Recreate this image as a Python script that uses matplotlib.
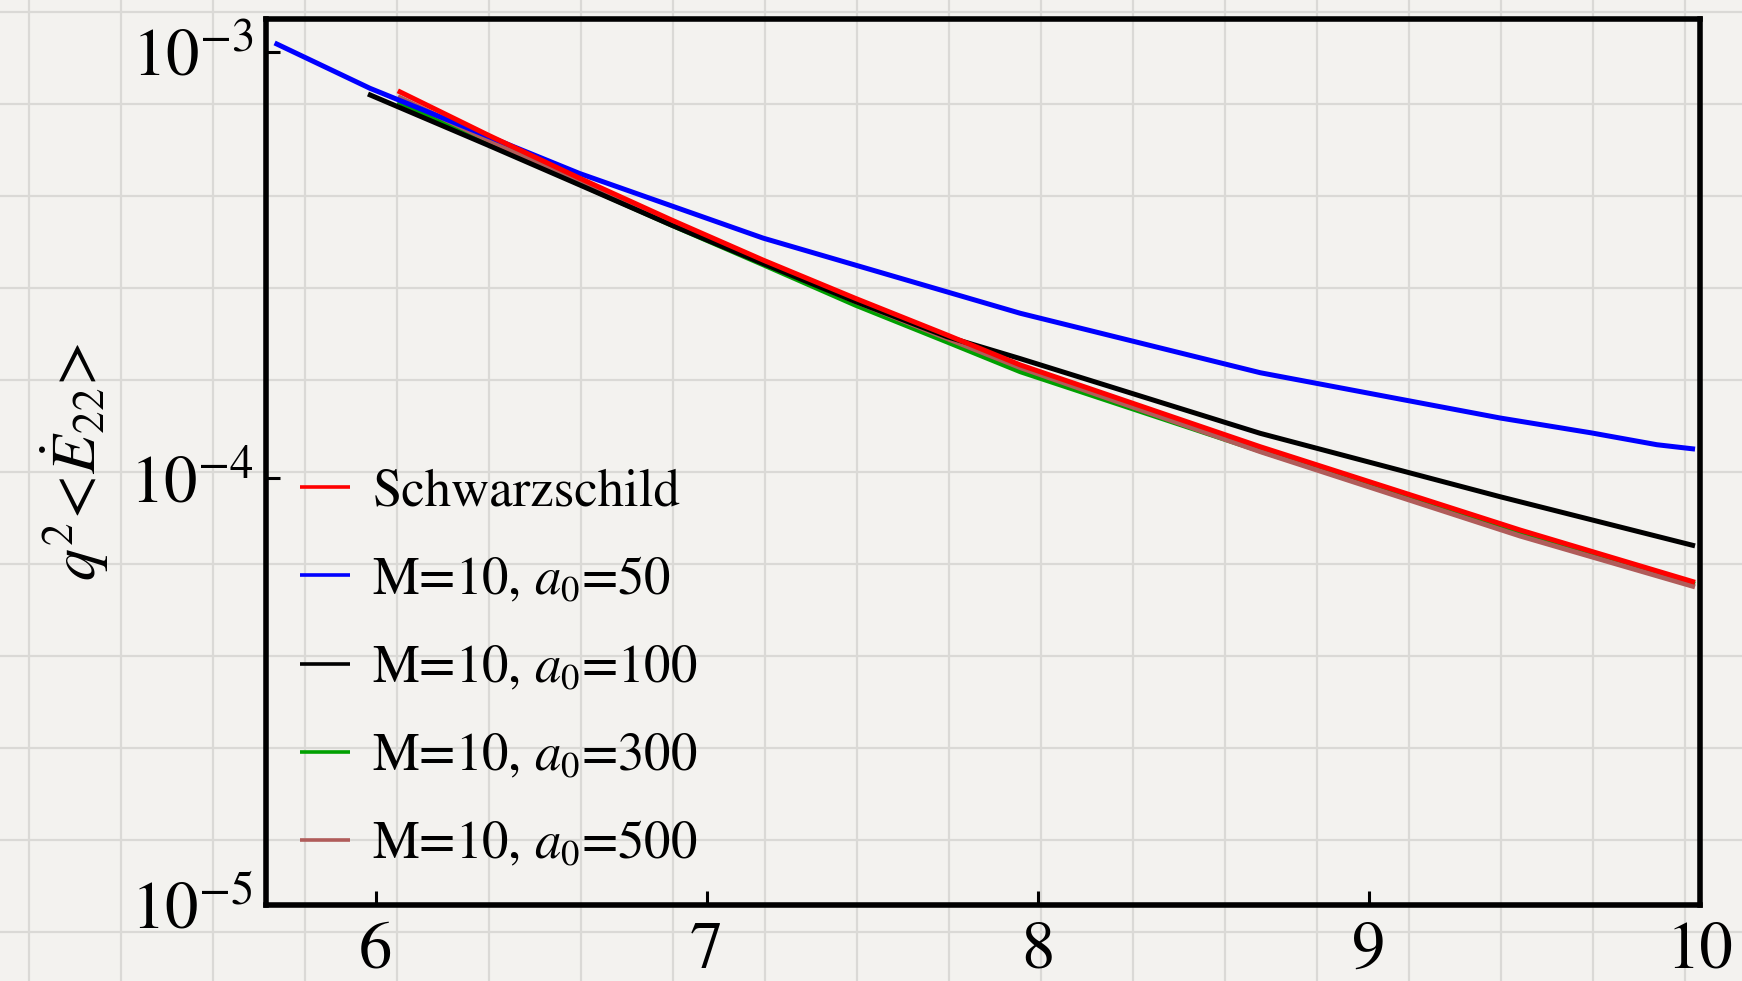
import numpy as np
import matplotlib
matplotlib.use("Agg")
import matplotlib.pyplot as plt
from matplotlib.lines import Line2D

plt.rcParams['font.family'] = ['STIXGeneral', 'DejaVu Serif']
plt.rcParams['mathtext.fontset'] = 'stix'

# datos (r, q^2 <dE22/dt>)
r_schw = [6.067, 6.339, 6.616, 6.893, 7.171, 7.449, 7.726, 7.947, 8.672, 9.457, 9.985]
e_schw = [8.11e-4, 6.39e-4, 5.06e-4, 4.04e-4, 3.25e-4, 2.645e-4, 2.17e-4, 1.846e-4,
          1.187e-4, 7.57e-5, 5.71e-5]

r_a50 = [5.695, 5.983, 6.616, 7.171, 7.947, 8.672, 9.397, 9.67, 9.87, 9.985]
e_a50 = [1.05e-3, 8.22e-4, 5.19e-4, 3.66e-4, 2.44e-4, 1.77e-4, 1.386e-4,
         1.28e-4, 1.20e-4, 1.172e-4]

r_a100 = [5.977, 6.339, 6.616, 6.893, 7.171, 7.449, 7.726, 7.947, 8.672, 9.397, 9.985]
e_a100 = [7.97e-4, 6.05e-4, 4.88e-4, 3.93e-4, 3.19e-4, 2.60e-4, 2.15e-4, 1.91e-4,
          1.276e-4, 9.06e-5, 6.95e-5]

r_a300 = [6.067, 6.339, 6.616, 6.893, 7.171, 7.449, 7.726, 7.947, 8.672, 9.457, 9.985]
e_a300 = [7.65e-4, 6.11e-4, 4.90e-4, 3.93e-4, 3.17e-4, 2.55e-4, 2.09e-4, 1.78e-4,
          1.16e-4, 7.43e-5, 5.65e-5]

r_a500 = [6.067, 6.339, 6.616, 6.893, 7.171, 7.449, 7.726, 7.947, 8.672, 9.457, 9.985]
e_a500 = [7.86e-4, 6.22e-4, 4.97e-4, 3.98e-4, 3.22e-4, 2.60e-4, 2.13e-4, 1.82e-4,
          1.156e-4, 7.33e-5, 5.57e-5]

etiquetas = ["Schwarzschild", r"M=10, $a_0$=50", r"M=10, $a_0$=100",
             r"M=10, $a_0$=300", r"M=10, $a_0$=500"]
xticks = [6, 7, 8, 9, 10]

W, H = 1742, 981
fig = plt.figure(figsize=(W / 100, H / 100), dpi=100, facecolor='#f3f2ef')

# cuadricula de papel de fondo
for px in np.arange(29, W, 92):
    fig.add_artist(Line2D([px / W, px / W], [0, 1], transform=fig.transFigure,
                          color='#dad9d6', lw=1.6, zorder=-5))
for py in np.arange(12, H, 92):
    fig.add_artist(Line2D([0, 1], [1 - py / H, 1 - py / H], transform=fig.transFigure,
                          color='#dad9d6', lw=1.6, zorder=-5))

ax = fig.add_axes([266 / W, 1 - 905 / H, (1700 - 266) / W, (905 - 19) / H])
ax.patch.set_alpha(0)

lw = 3.6
l1, = ax.plot(r_schw, e_schw, color='#ff0000', lw=lw, zorder=2.4, solid_capstyle='butt')
l2, = ax.plot(r_a50, e_a50, color='#0000ff', lw=lw, zorder=2.3, solid_capstyle='butt')
l3, = ax.plot(r_a100, e_a100, color='black', lw=lw, zorder=2.2, solid_capstyle='butt')
l4, = ax.plot(r_a300, e_a300, color='#00a000', lw=lw, zorder=2.0, solid_capstyle='butt')
l5, = ax.plot(r_a500, e_a500, color='#b05c5a', lw=lw, zorder=2.1, solid_capstyle='butt')

ax.set_yscale('log')
ax.set_xlim(5.669, 10)
ax.set_ylim(1e-5, 1.195e-3)
ax.set_xticks(xticks)
ax.set_xticklabels([str(t) for t in xticks])
ax.minorticks_off()
ax.tick_params(direction='in', length=10, width=2.2, labelsize=48, pad=12)
ax.tick_params(axis='y', pad=9)
for s in ax.spines.values():
    s.set_linewidth(4)

ax.set_ylabel(r"$q^2\!<\!\dot{E}_{22}\!>$", fontsize=46)
ax.yaxis.set_label_coords(-0.108, 0.50)

leg = ax.legend([l1, l2, l3, l4, l5], etiquetas, loc='upper left',
                bbox_to_anchor=(0.0237, 0.493), frameon=False, fontsize=38,
                handlelength=0.95, handletextpad=0.42, labelspacing=0.74,
                borderpad=0, borderaxespad=0)
for h in leg.get_lines():
    h.set_linewidth(2.6)

fig.savefig("out.png", dpi=100, facecolor=fig.get_facecolor())
